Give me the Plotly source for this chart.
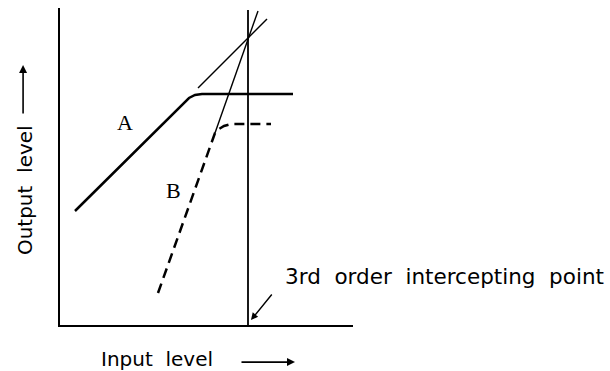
import plotly.graph_objects as go

# curve A: fundamental output vs input (dB-like units)
a_input = [1.5, 12.3, 12.9, 13.5, 14.2, 23.3]
a_output = [11.4, 22.2, 22.7, 23.0, 23.1, 23.1]

# curve B: 3rd order product
b_input = [9.8, 15.5, 15.9, 16.4, 17.1, 21.1]
b_output = [3.2, 19.2, 19.6, 19.9, 20.1, 20.1]

# extrapolated straight lines through the intercept
a_ext_input = [13.8, 20.7]
a_ext_output = [23.7, 30.6]
b_ext_input = [15.5, 19.8]
b_ext_output = [19.2, 31.4]

# intercept marker line
ip_input = [18.8, 18.8]
ip_output = [0, 31.5]

FONT = "DejaVu Sans"
SP = "\u00a0\u00a0"

fig = go.Figure()
fig.add_trace(go.Scatter(x=a_input, y=a_output, mode="lines",
                         line=dict(color="black", width=2.5)))
fig.add_trace(go.Scatter(x=b_input, y=b_output, mode="lines",
                         line=dict(color="black", width=2.5, dash="10px,6px")))
fig.add_trace(go.Scatter(x=a_ext_input, y=a_ext_output, mode="lines",
                         line=dict(color="black", width=1.4)))
fig.add_trace(go.Scatter(x=b_ext_input, y=b_ext_output, mode="lines",
                         line=dict(color="black", width=1.4)))
fig.add_trace(go.Scatter(x=ip_input, y=ip_output, mode="lines",
                         line=dict(color="black", width=1.8)))

annotations = [
    dict(x=6.5, y=20.3, text="A", showarrow=False,
         font=dict(family="Liberation Serif", size=22)),
    dict(x=11.3, y=13.5, text="B", showarrow=False,
         font=dict(family="Liberation Serif", size=22)),
    dict(x=22.3, y=4.9, text=SP.join(["3rd", "order", "intercepting", "point"]),
         showarrow=False, xanchor="left", font=dict(family=FONT, size=21.5)),
    dict(x=19.1, y=0.5, text="", showarrow=True, ax=22, ay=-27,
         arrowhead=2, arrowsize=1, arrowwidth=1.4, arrowcolor="black"),
    # axis titles live outside the plotting area, so use paper coordinates
    dict(xref="paper", yref="paper", x=0.331, y=-0.107,
         xanchor="center", yanchor="middle",
         text="Input" + SP + "level", showarrow=False,
         font=dict(family=FONT, size=20)),
    dict(xref="paper", yref="paper", x=0.802, y=-0.117, ax=-55, ay=0,
         text="", showarrow=True, arrowhead=2, arrowsize=1, arrowwidth=1.6,
         arrowcolor="black"),
    dict(xref="paper", yref="paper", x=-0.119, y=0.426,
         xanchor="center", yanchor="middle",
         text="Output" + SP + "level", showarrow=False, textangle=-90,
         font=dict(family=FONT, size=20)),
    dict(xref="paper", yref="paper", x=-0.126, y=0.820, ax=0, ay=50,
         text="", showarrow=True, arrowhead=2, arrowsize=1, arrowwidth=1.6,
         arrowcolor="black"),
]

axis_style = dict(showline=True, linewidth=2, linecolor="black",
                  showgrid=False, zeroline=False, ticks="",
                  showticklabels=False)

fig.update_layout(
    width=610, height=371,
    margin=dict(l=60, r=257, t=8, b=46),
    paper_bgcolor="white", plot_bgcolor="white",
    showlegend=False,
    xaxis=dict(range=[0, 29.3], **axis_style),
    yaxis=dict(range=[0, 31.7], **axis_style),
    annotations=annotations,
    font=dict(color="black"),
)

fig.write_html("out.html", config={"displayModeBar": False},
               post_script="document.body.style.margin='0px';")
